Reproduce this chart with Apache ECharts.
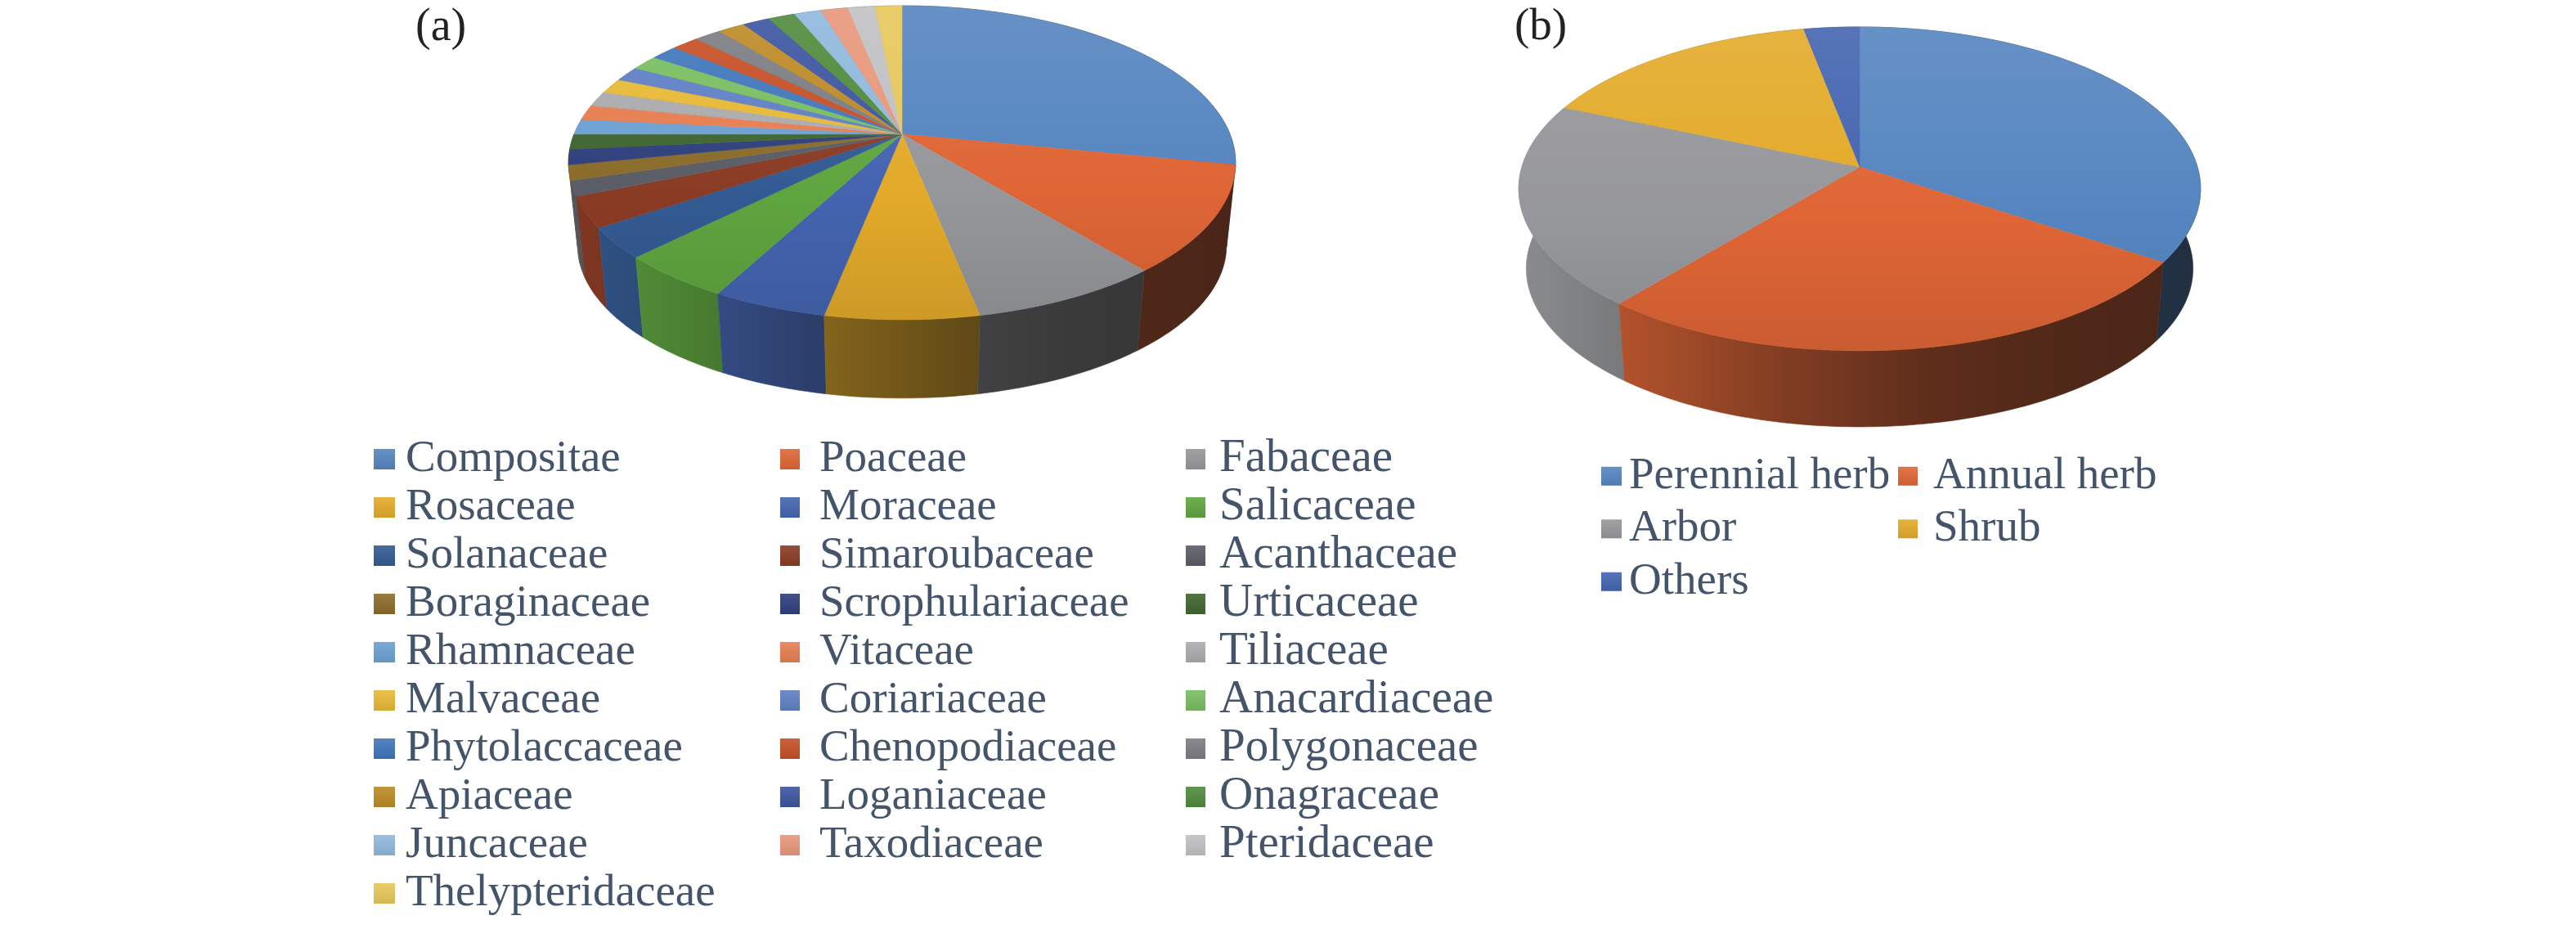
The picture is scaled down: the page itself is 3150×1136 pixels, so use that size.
<!DOCTYPE html>
<html>
<head>
<meta charset="utf-8">
<style>
html,body{margin:0;padding:0;background:#fff;}
#c{width:3150px;height:1136px;filter:blur(0.7px);}
</style>
<script src="https://cdn.jsdelivr.net/npm/echarts@6/dist/echarts.min.js"></script>
</head>
<body>
<div id="c"></div>
<script>
const familyNames = ['Compositae','Poaceae','Fabaceae','Rosaceae','Moraceae','Salicaceae','Solanaceae','Simaroubaceae','Acanthaceae','Boraginaceae','Scrophulariaceae','Urticaceae','Rhamnaceae','Vitaceae','Tiliaceae','Malvaceae','Coriariaceae','Anacardiaceae','Phytolaccaceae','Chenopodiaceae','Polygonaceae','Apiaceae','Loganiaceae','Onagraceae','Juncaceae','Taxodiaceae','Pteridaceae','Thelypteridaceae'];
const familyValues = [18,7,5,4,3,3,2,2,1,1,1,1,1,1,1,1,1,1,1,1,1,1,1,1,1,1,1,1];
const familyColors = ['#5585c0','#df6535','#96979a','#e3aa29','#4464b0','#5fa53f','#335a92','#8a3b24','#5a5d66','#8a6b2a','#2e3f7c','#3f6530','#6ba0d2','#e67d50','#ababae','#e6b935','#5f7fc4','#78bd60','#3f76bb','#c54f25','#7b7d83','#bc8a25','#3c55a0','#4f8a3c','#8fb8dc','#e8977a','#c1c1c3','#e6c75a'];
const lifeNames = ['Perennial herb','Annual herb','Arbor','Shrub','Others'];
const lifeValues = [34.4,26.6,20.4,15.6,3.0];
const lifeColors = ['#5585c0','#df6535','#96979a','#e3aa29','#4464b0'];

const geomA = {x0:1103,y0:164,A:401,B:185.6,k:0.1823,f:0.973,yb:266};
const geomB = {x0:2274,y0:204,A:413,B:194.3,k:0.136,f:0.978,yb:302};

function rgb(h){return [parseInt(h.slice(1,3),16),parseInt(h.slice(3,5),16),parseInt(h.slice(5,7),16)];}
function css(c){return 'rgb('+c.map(v=>Math.max(0,Math.min(255,Math.round(v)))).join(',')+')';}
function lighten(h,a){return css(rgb(h).map(v=>v+(255-v)*a));}
function shade(h,f){return css(rgb(h).map(v=>v*f+10*(1-f)));}

function project(g,theta,bottom){
  const u=Math.sin(theta),v=-Math.cos(theta),s=1/(1-g.k*v);
  if(bottom) return [g.x0+g.A*g.f*u*s,g.yb+g.B*g.f*v*s];
  return [g.x0+g.A*u*s,g.y0+g.B*v*s];
}
function arc(g,a,b,bottom){
  const n=Math.max(2,Math.ceil((b-a)/(Math.PI/180))),pts=[];
  for(let i=0;i<=n;i++)pts.push(project(g,a+(b-a)*i/n,bottom));
  return pts;
}
const wallStops=[[-1,0.92],[-0.55,0.72],[-0.2,0.55],[0.2,0.40],[0.5,0.34],[1,0.30]];
function sliceSeries(names,values,colors,g){
  const total=values.reduce((s,v)=>s+v,0);
  let acc=0;
  const yTop=g.y0-g.B/(1+g.k),yBot=g.y0+g.B/(1-g.k);
  return names.map((name,i)=>{
    const start=acc/total*2*Math.PI;acc+=values[i];
    const end=acc/total*2*Math.PI,color=colors[i];
    const halfW=g.A/Math.sqrt(1-g.k*g.k);
    const topFill=new echarts.graphic.LinearGradient(0,yTop,0,yBot,[
      {offset:0,color:lighten(color,0.1)},
      {offset:0.6,color:color},
      {offset:1,color:shade(color,0.9)}],true);
    const wallFill=new echarts.graphic.LinearGradient(g.x0-halfW,0,g.x0+halfW,0,
      wallStops.map(s=>({offset:(s[0]+1)/2,color:shade(color,s[1])})),true);
    const mid=(start+end)/2;
    return {
      type:'custom',name:name,coordinateSystem:'none',silent:true,
      itemStyle:{color:color},data:[values[i]],
      renderItem:function(){
        const top=arc(g,start,end,false),bot=arc(g,start,end,true).reverse();
        return {type:'group',children:[
          {type:'polygon',z2:10+Math.round(-Math.cos(mid)*20)+20,
           shape:{points:top.concat(bot)},
           style:{fill:wallFill,stroke:wallFill,lineWidth:0.6}},
          {type:'polygon',z2:100,
           shape:{points:[[g.x0,g.y0]].concat(top)},
           style:{fill:topFill,stroke:topFill,lineWidth:0.6}}
        ]};
      }
    };
  });
}
const allNames=familyNames.concat(lifeNames);
const allColors=familyColors.concat(lifeColors);
function swatch(name){
  const color=allColors[allNames.indexOf(name)];
  return {name:name,icon:'rect',itemStyle:{color:new echarts.graphic.LinearGradient(0,0,0,1,[
    {offset:0,color:lighten(color,0.1)},{offset:1,color:shade(color,0.92)}])}};
}
const col=(arr,r)=>arr.filter((_,i)=>i%3===r);
function lg(names,left,top,pitch,w,h,gap,drop,size){
  return {show:true,orient:'vertical',left:left,top:top,padding:0,itemGap:0,itemWidth:w,itemHeight:h,
    selectedMode:false,data:names.map(swatch),
    textStyle:{fontFamily:'Liberation Serif',fontSize:size||55,lineHeight:pitch-drop,color:'#44546a',padding:[drop,0,0,gap]}};
}

const chart=echarts.init(document.getElementById('c'),null,{renderer:'canvas'});
chart.setOption({
  animation:false,backgroundColor:'#fff',
  title:[
    {text:'(a)',left:508,top:6,padding:0,textStyle:{fontFamily:'Liberation Serif',fontWeight:'normal',fontSize:56,color:'#222'}},
    {text:'(b)',left:1852,top:6,padding:0,textStyle:{fontFamily:'Liberation Serif',fontWeight:'normal',fontSize:55,color:'#222'}}
  ],
  legend:[
    lg(col(familyNames,0),457,532,59,26,25,8,0),
    lg(col(familyNames,1),954,532,59,24,25,19,0),
    lg(col(familyNames,2),1450,532,59,24,25,12,14,57),
    lg([lifeNames[0],lifeNames[2],lifeNames[4]],1958,550,64.5,25,23,4,8),
    lg([lifeNames[1],lifeNames[3]],2321,550,64.5,24,23,14,0)
  ],
  series:sliceSeries(familyNames,familyValues,familyColors,geomA)
    .concat(sliceSeries(lifeNames,lifeValues,lifeColors,geomB))
});
</script>
</body>
</html>
